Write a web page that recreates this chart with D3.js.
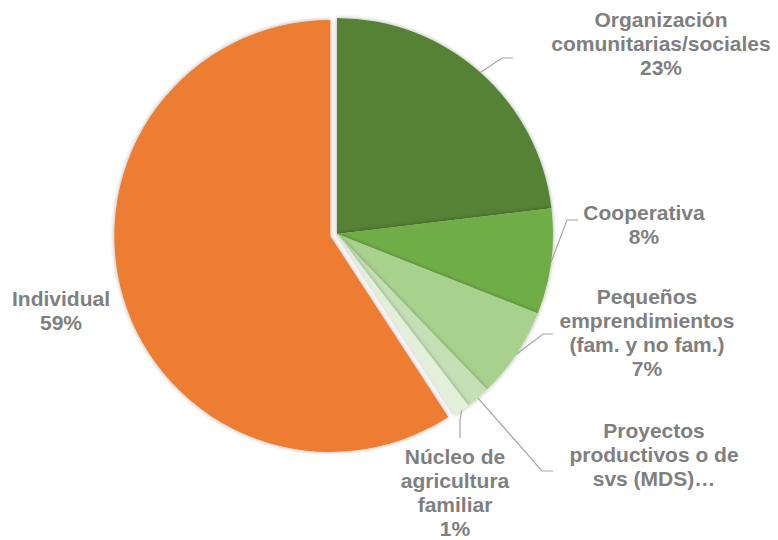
<!DOCTYPE html>
<html><head><meta charset="utf-8">
<script src="https://cdn.jsdelivr.net/npm/d3@7/dist/d3.min.js"></script>
<style>body{margin:0;background:#fff;}svg{display:block;}</style>
</head><body>
<svg id="chart" width="778" height="540"></svg>
<script>
// ---- data ----
const categories = [
  ["Organización", "comunitarias/sociales"],
  ["Cooperativa"],
  ["Pequeños", "emprendimientos", "(fam. y no fam.)"],
  ["Proyectos", "productivos o de", "svs (MDS)…"],
  ["Núcleo de", "agricultura", "familiar"],
  ["Individual"]
];
const values = [23.1, 7.9, 6.8, 1.8, 1.2, 59.2];
const percentLabels = ["23%", "8%", "7%", null, "1%", "59%"];
const colors = ["#548235", "#70AD47", "#A9D18E", "#C5E0B4", "#E2F0D9", "#ED7D31"];
const explode = [0, 0, 0, 0, 0, 7];

// ---- layout ----
const cx = 337, cy = 234, R = 216;
const lineH = 24;
const labelLayout = [
  {x: 661, y: 27,  end: [513, 58],  elbow: [502, 58]},
  {x: 644, y: 220, end: [578, 220], elbow: [567, 220]},
  {x: 647, y: 304, end: [553, 334], elbow: [543, 334]},
  {x: 654, y: 438, end: [553, 471], elbow: [542, 471]},
  {x: 455, y: 464, end: [460, 438], elbow: [460, 420]},
  {x: 61,  y: 306, end: null, elbow: null}
];

const svg = d3.select("#chart");
const defs = svg.append("defs");
const f = defs.append("filter").attr("id", "shadow")
  .attr("x", "-10%").attr("y", "-10%").attr("width", "120%").attr("height", "120%");
f.append("feDropShadow").attr("dx", 0).attr("dy", 0).attr("stdDeviation", 2.2)
  .attr("flood-color", "#000").attr("flood-opacity", 0.35);

const pie = d3.pie().sort(null).value(d => d)(values);
const arc = d3.arc().innerRadius(0).outerRadius(R);

const g = svg.append("g").attr("transform", `translate(${cx},${cy})`);
g.selectAll("path").data(pie).enter().append("path")
  .attr("d", arc)
  .attr("fill", (d, i) => colors[i])
  .attr("filter", "url(#shadow)")
  .attr("transform", (d, i) => {
    const a = (d.startAngle + d.endAngle) / 2;
    return `translate(${explode[i] * Math.sin(a)},${-explode[i] * Math.cos(a)})`;
  });

// leader lines
pie.forEach((d, i) => {
  const L = labelLayout[i];
  if (!L.end) return;
  const a = (d.startAngle + d.endAngle) / 2;
  const sx = cx + R * Math.sin(a), sy = cy - R * Math.cos(a);
  svg.append("polyline")
    .attr("points", [[sx, sy], L.elbow, L.end].map(p => p.join(",")).join(" "))
    .attr("fill", "none").attr("stroke", "#a6a6a6").attr("stroke-width", 1.2);
});

// labels
categories.forEach((lines, i) => {
  const L = labelLayout[i];
  const all = percentLabels[i] ? lines.concat([percentLabels[i]]) : lines;
  const t = svg.append("text")
    .attr("text-anchor", "middle")
    .attr("font-family", "'Liberation Sans', Arial, sans-serif")
    .attr("font-weight", "bold").attr("font-size", 21)
    .attr("fill", "#7f7f7f");
  all.forEach((s, k) => {
    t.append("tspan").attr("x", L.x).attr("y", L.y + k * lineH).text(s);
  });
});
</script>
</body></html>
